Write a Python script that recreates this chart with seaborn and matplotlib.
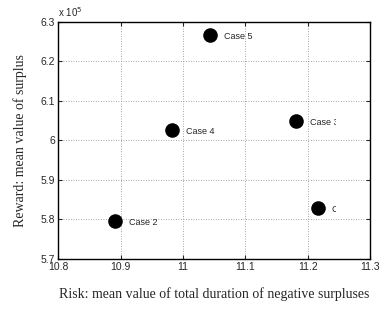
import matplotlib
matplotlib.use("Agg")
import matplotlib.pyplot as plt
import matplotlib.transforms as mtransforms
import seaborn as sns
import pandas as pd

cases = ["Case 1", "Case 2", "Case 3", "Case 4", "Case 5"]
risk = [11.217, 10.891, 11.181, 10.983, 11.044]
reward = [582900, 579600, 605000, 602700, 626700]

df = pd.DataFrame({"case": cases, "risk": risk, "reward": reward})

sns.set_style("ticks")
plt.rcParams["font.family"] = ["Liberation Sans", "DejaVu Sans"]

fig = plt.figure(figsize=(3.85, 3.10), dpi=100)
ax = fig.add_axes([0.151, 0.165, 0.81, 0.765])

sns.scatterplot(data=df, x="risk", y="reward", color="black", s=110,
                edgecolor="black", linewidth=0, ax=ax, zorder=3, legend=False)

# labels sit right of each dot; in the original they get cut off a bit
# before the right spine
shift = mtransforms.ScaledTranslation(10 / 72, -1.5 / 72, fig.dpi_scale_trans)
clip = mtransforms.TransformedBbox(mtransforms.Bbox([[0, 0], [0.891, 1]]),
                                   ax.transAxes)
for c, xv, yv in zip(cases, risk, reward):
    t = ax.text(xv, yv, c, transform=ax.transData + shift, fontsize=6.5,
                va="center", ha="left", clip_on=True)
    t.set_clip_box(clip)

ax.set_xlim(10.8, 11.3)
ax.set_ylim(570000, 630000)
ax.set_xticks([10.8, 10.9, 11.0, 11.1, 11.2, 11.3])
ax.set_xticklabels(["10.8", "10.9", "11", "11.1", "11.2", "11.3"])
ax.set_yticks([570000, 580000, 590000, 600000, 610000, 620000, 630000])
ax.set_yticklabels(["5.7", "5.8", "5.9", "6", "6.1", "6.2", "6.3"])
ax.text(0.0, 1.01, r"x 10$^5$", transform=ax.transAxes, fontsize=7,
        ha="left", va="bottom")

ax.grid(True, linestyle=(0, (1, 2)), color="#888888", linewidth=0.6)
ax.tick_params(direction="in", top=True, right=True, labelsize=7.5,
               length=3, width=0.8, pad=2)
for sp in ax.spines.values():
    sp.set_linewidth(1.0)
    sp.set_color("black")

ax.set_xlabel("Risk: mean value of total duration of negative surpluses",
              family=["Liberation Serif", "DejaVu Serif"], fontsize=10, labelpad=11)
ax.set_ylabel("Reward: mean value of surplus",
              family=["Liberation Serif", "DejaVu Serif"], fontsize=10, labelpad=10)

fig.savefig("out.png", dpi=100)
